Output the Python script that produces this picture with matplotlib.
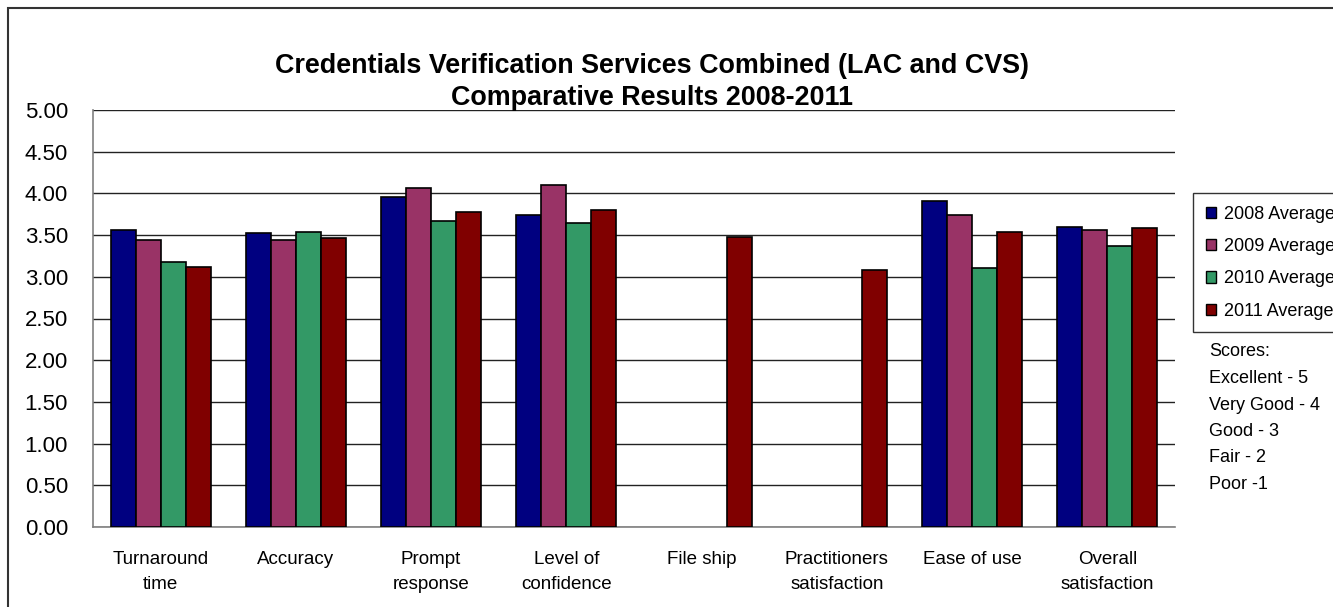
import matplotlib
matplotlib.use("Agg")
import matplotlib.pyplot as plt
from matplotlib.patches import Patch, Rectangle
import numpy as np

categories = ["Turnaround\ntime", "Accuracy", "Prompt\nresponse", "Level of\nconfidence",
              "File ship", "Practitioners\nsatisfaction", "Ease of use", "Overall\nsatisfaction"]
series_names = ["2008 Average", "2009 Average", "2010 Average", "2011 Average"]
v2008 = [3.56, 3.52, 3.96, 3.74, np.nan, np.nan, 3.91, 3.60]
v2009 = [3.44, 3.44, 4.06, 4.10, np.nan, np.nan, 3.74, 3.56]
v2010 = [3.18, 3.54, 3.67, 3.65, np.nan, np.nan, 3.10, 3.37]
v2011 = [3.12, 3.46, 3.78, 3.80, 3.48, 3.08, 3.54, 3.58]
yticks = [0.0, 0.5, 1.0, 1.5, 2.0, 2.5, 3.0, 3.5, 4.0, 4.5, 5.0]
score_lines = ["Scores:", "Excellent - 5", "Very Good - 4", "Good - 3", "Fair - 2", "Poor -1"]
title_lines = ["Credentials Verification Services Combined (LAC and CVS)", "Comparative Results 2008-2011"]

colors = ["#000080", "#993366", "#339966", "#800000"]

plt.rcParams['font.family'] = ['Liberation Sans', 'DejaVu Sans']

W, H = 1333, 607
fig = plt.figure(figsize=(W / 100, H / 100), dpi=100)
L, R, T, B = 93, 1175, 110, 527
ax = fig.add_axes([L / W, 1 - B / H, (R - L) / W, (B - T) / H])

x = np.arange(len(categories))
bw = 0.185
for i, (vals, c, n) in enumerate(zip([v2008, v2009, v2010, v2011], colors, series_names)):
    ax.bar(x + (i - 1.5) * bw, vals, width=bw, color=c, edgecolor="black", linewidth=1.2, label=n, zorder=3)

ax.set_xlim(-0.5, len(categories) - 0.5)
ax.set_ylim(0, 5)
ax.set_yticks(yticks)
ax.set_yticklabels([f"{t:.2f}" for t in yticks], fontsize=16)
ax.yaxis.grid(True, color="#222222", linewidth=1.0, zorder=0)
ax.tick_params(axis='y', length=0, pad=18)
ax.set_xticks(x)
ax.set_xticklabels(categories, fontsize=13.5, linespacing=1.6)
ax.tick_params(axis='x', length=0, pad=17.5)
for s in ["top", "right"]:
    ax.spines[s].set_visible(False)
for s in ["left", "bottom"]:
    ax.spines[s].set_color("#808080")
    ax.spines[s].set_linewidth(1.2)

# Chart border
fig.patches.append(Rectangle((8 / W, -0.1), 1.2, 1 - 8 / H + 0.1, transform=fig.transFigure,
                             fill=False, edgecolor="#333333", linewidth=1.5))

# Title
fig.text(652 / W, 1 - 66 / H, title_lines[0], ha="center", va="center", fontsize=19.4,
         fontweight="bold")
fig.text(652 / W, 1 - 98 / H, title_lines[1], ha="center", va="center", fontsize=19.4,
         fontweight="bold")

# Legend
handles = [Patch(facecolor=c, edgecolor="black", linewidth=1.0) for c in colors]
leg = fig.legend(handles, series_names, loc="upper left", bbox_to_anchor=(1193 / W, 1 - 193 / H),
                 fontsize=13, frameon=True, fancybox=False, edgecolor="black", handlelength=0.6,
                 handleheight=0.6, handletextpad=0.4, labelspacing=0.85, borderpad=0.7,
                 borderaxespad=0)
leg.get_frame().set_linewidth(1.0)

# Scores
for k, s in enumerate(score_lines):
    fig.text(1209 / W, 1 - (352 + k * 26.5) / H, s, ha="left", va="center", fontsize=13)

fig.savefig("out.png", dpi=100, facecolor="white")
